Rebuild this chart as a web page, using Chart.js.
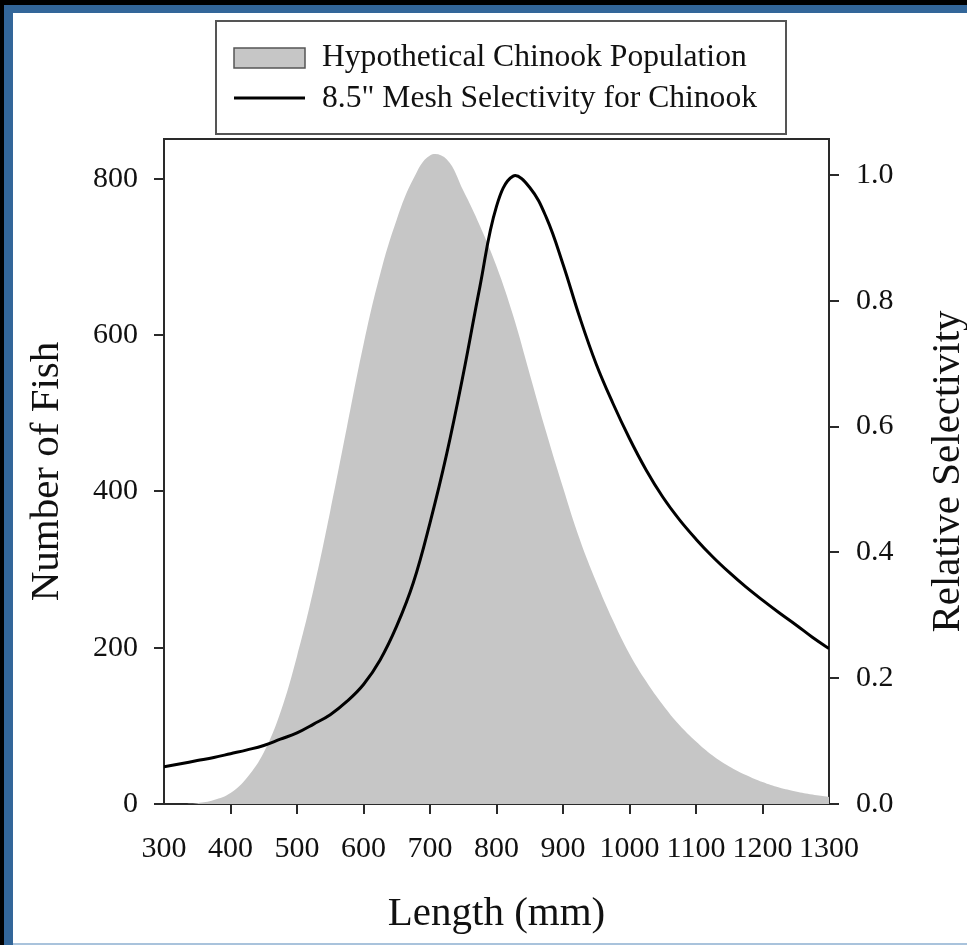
<!DOCTYPE html>
<html>
<head>
<meta charset="utf-8">
<script src="https://cdn.jsdelivr.net/npm/chart.js@4.4.0/dist/chart.umd.min.js"></script>
<style>
  html, body { margin: 0; padding: 0; background: #000; overflow: hidden; }
  #frame { position: absolute; left: 4px; top: 5px; width: 963px; height: 940px; background: #336699; }
  #paper { position: absolute; left: 13px; top: 13px; width: 954px; height: 930px; background: #fff; border-bottom: 2px solid #a9c3dc; }
  #chart { position: absolute; left: 0; top: 0; }
</style>
</head>
<body>
<div id="frame"></div>
<div id="paper"></div>
<canvas id="chart" width="967" height="945"></canvas>
<script>
// fish length (mm), every 25 mm
const lengths = [300, 325, 350, 375, 400, 425, 450, 475, 500, 525, 550, 575, 600, 625, 650, 675, 700,
  725, 750, 775, 800, 825, 850, 875, 900, 925, 950, 975, 1000, 1025, 1050, 1075, 1100, 1125, 1150,
  1175, 1200, 1225, 1250, 1275, 1300];

// number of fish in the hypothetical population (left axis)
const population = [0, 0, 1, 5, 14, 34, 66, 117, 189, 275, 375, 482, 588, 678, 748, 800, 830,
  825, 785, 740, 688, 625, 550, 475, 405, 339, 284, 235, 192, 157, 127, 101, 80, 62, 48,
  37, 28, 21, 16, 12, 9];

// relative selectivity of 8.5" mesh (right axis)
const selectivity = [0.059, 0.064, 0.069, 0.074, 0.080, 0.086, 0.093, 0.103, 0.113, 0.127, 0.142, 0.163, 0.190,
  0.229, 0.283, 0.352, 0.447, 0.556, 0.683, 0.822, 0.950, 0.998, 0.980, 0.932, 0.858, 0.774, 0.699,
  0.637, 0.581, 0.531, 0.488, 0.452, 0.421, 0.393, 0.368, 0.345, 0.324, 0.304, 0.285, 0.265, 0.247];

const popLabel = 'Hypothetical Chinook Population';
const selLabel = '8.5" Mesh Selectivity for Chinook';
const xTitle = 'Length (mm)';
const yTitle = 'Number of Fish';
const y1Title = 'Relative Selectivity';

const SERIF = "'Liberation Serif', 'Times New Roman', serif";
const INK = '#111';
const AXIS = '#2a2a2a';
const GRAY = '#c6c6c6';

// boxed legend, top frame line and the upward-reading right title
const decor = {
  id: 'decor',
  afterDraw(chart) {
    const ctx = chart.ctx;
    const area = chart.chartArea;
    ctx.save();

    // top edge of the plot box
    ctx.strokeStyle = AXIS;
    ctx.lineWidth = 2;
    ctx.beginPath();
    ctx.moveTo(area.left, area.top);
    ctx.lineTo(area.right, area.top);
    ctx.stroke();

    // legend box
    ctx.strokeStyle = '#555';
    ctx.lineWidth = 2;
    ctx.strokeRect(216, 21, 570, 113);

    const pop = chart.data.datasets.find(d => d.label === popLabel);
    const sel = chart.data.datasets.find(d => d.label === selLabel);

    ctx.fillStyle = pop.backgroundColor;
    ctx.fillRect(234, 48, 71, 20);
    ctx.strokeStyle = '#555';
    ctx.lineWidth = 1.5;
    ctx.strokeRect(234, 48, 71, 20);

    ctx.strokeStyle = sel.borderColor;
    ctx.lineWidth = sel.borderWidth;
    ctx.beginPath();
    ctx.moveTo(234, 98);
    ctx.lineTo(305, 98);
    ctx.stroke();

    ctx.fillStyle = INK;
    ctx.font = '31.6px ' + SERIF;
    ctx.textAlign = 'left';
    ctx.textBaseline = 'middle';
    ctx.fillText(pop.label, 322, 58);
    ctx.fillText(sel.label, 322, 99);

    // right axis title, reading bottom to top
    ctx.font = '41px ' + SERIF;
    ctx.textAlign = 'center';
    ctx.translate(948, (area.top + area.bottom) / 2);
    ctx.rotate(-Math.PI / 2);
    ctx.fillText(y1Title, 0, 0);
    ctx.restore();
  }
};

const tickFont = { family: SERIF, size: 30 };
const titleFont = { family: SERIF, size: 41 };

new Chart(document.getElementById('chart'), {
  type: 'line',
  data: {
    datasets: [
      {
        label: selLabel,
        data: lengths.map((x, i) => ({ x: x, y: selectivity[i] })),
        yAxisID: 'y1',
        borderColor: '#000',
        borderWidth: 3,
        pointRadius: 0,
        fill: false,
        tension: 0.4,
        order: 0
      },
      {
        label: popLabel,
        data: lengths.map((x, i) => ({ x: x, y: population[i] })),
        yAxisID: 'y',
        borderWidth: 0,
        borderColor: GRAY,
        backgroundColor: GRAY,
        pointRadius: 0,
        fill: 'origin',
        tension: 0.4,
        order: 1
      }
    ]
  },
  options: {
    responsive: false,
    animation: false,
    layout: { padding: { top: 139, left: 0, right: 0, bottom: 0 } },
    plugins: {
      legend: { display: false },
      tooltip: { enabled: false }
    },
    scales: {
      x: {
        type: 'linear',
        min: 300,
        max: 1300,
        afterFit: s => { s.height = 141; },
        border: { display: true, color: AXIS, width: 2 },
        grid: {
          drawOnChartArea: false,
          tickLength: 10,
          lineWidth: 2,
          tickColor: c => (c.tick && (c.tick.value === 300 || c.tick.value === 1300)) ? 'rgba(0,0,0,0)' : AXIS
        },
        ticks: {
          stepSize: 100,
          autoSkip: false,
          maxRotation: 0,
          padding: 17,
          color: INK,
          font: tickFont,
          callback: v => String(v)
        },
        title: { display: true, text: xTitle, color: INK, font: titleFont, padding: { top: 0, bottom: 6 } }
      },
      y: {
        position: 'left',
        min: 0,
        max: 851,
        afterFit: s => { s.width = 164; },
        border: { display: true, color: AXIS, width: 2 },
        grid: { drawOnChartArea: false, tickLength: 10, lineWidth: 2, tickColor: AXIS },
        ticks: { stepSize: 200, includeBounds: false, padding: 16, color: INK, font: tickFont },
        title: { display: true, text: yTitle, color: INK, font: titleFont, padding: { top: 23, bottom: 0 } }
      },
      y1: {
        position: 'right',
        min: 0,
        max: 1.057,
        afterFit: s => { s.width = 138; },
        border: { display: true, color: AXIS, width: 2 },
        grid: { drawOnChartArea: false, tickLength: 10, lineWidth: 2, tickColor: AXIS },
        ticks: {
          stepSize: 0.2,
          includeBounds: false,
          padding: 17,
          color: INK,
          font: tickFont,
          callback: v => v.toFixed(1)
        }
      }
    }
  },
  plugins: [decor]
});
</script>
</body>
</html>
